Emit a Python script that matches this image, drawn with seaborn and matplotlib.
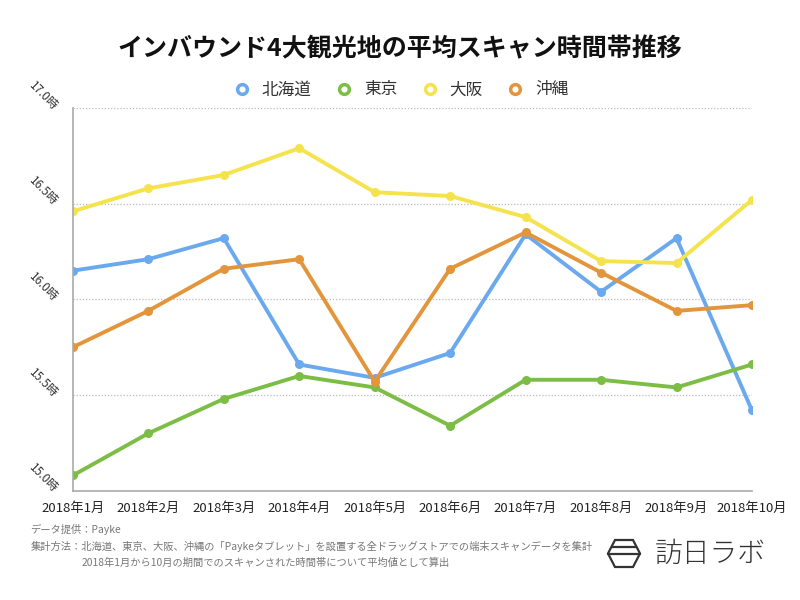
import numpy as np
import pandas as pd
import matplotlib
matplotlib.use('Agg')
import matplotlib.pyplot as plt
from matplotlib.lines import Line2D
from matplotlib.patches import Polygon
import seaborn as sns

sns.set_theme(style='white')
plt.rcParams['font.family'] = ['Noto Sans CJK JP', 'DejaVu Sans']
plt.rcParams['axes.unicode_minus'] = False

months = ['2018年1月', '2018年2月', '2018年3月', '2018年4月', '2018年5月',
          '2018年6月', '2018年7月', '2018年8月', '2018年9月', '2018年10月']
regions = ['北海道', '東京', '大阪', '沖縄']
hokkaido = [16.15, 16.21, 16.32, 15.66, 15.59, 15.72, 16.34, 16.04, 16.32, 15.42]
tokyo = [15.08, 15.30, 15.48, 15.60, 15.54, 15.34, 15.58, 15.58, 15.54, 15.66]
osaka = [16.46, 16.58, 16.65, 16.79, 16.56, 16.54, 16.43, 16.20, 16.19, 16.52]
okinawa = [15.75, 15.94, 16.16, 16.21, 15.57, 16.16, 16.35, 16.14, 15.94, 15.97]
yticks = [15.0, 15.5, 16.0, 16.5, 17.0]
colors = ['#6aa9ee', '#7cbd45', '#f4e34c', '#e2953a']

df = pd.DataFrame({
    'month': months * 4,
    'pos': list(range(len(months))) * 4,
    'region': np.repeat(regions, len(months)),
    'value': hokkaido + tokyo + osaka + okinawa,
})

fig = plt.figure(figsize=(8, 6), dpi=100)
ax = fig.add_axes([0.091, 0.182, 0.849, 0.638])

sns.lineplot(data=df, x='pos', y='value', hue='region', hue_order=regions,
             palette=colors, marker='o', markersize=6.5, markeredgewidth=0,
             linewidth=2.8, ax=ax, legend=False, sort=False)

ax.set_xlim(0, len(months) - 1)
ax.set_ylim(15.0, 17.0)
ax.set_xticks(range(len(months)))
ax.set_xticklabels(months, fontsize=9.5, color='#222222')
ax.set_yticks(yticks)
ax.set_yticklabels([f'{v:.1f}時' for v in yticks], rotation=-45, fontsize=8.5,
                   color='#333333', ha='right', va='center', rotation_mode='anchor')
ax.tick_params(axis='both', length=0)
ax.tick_params(axis='x', pad=8)
ax.tick_params(axis='y', pad=12)
ax.set_xlabel('')
ax.set_ylabel('')

for v in yticks[1:]:
    ax.axhline(v, color='#bbbbbb', linestyle=(0, (1, 1.5)), linewidth=0.9, zorder=0)
for s in ['top', 'right']:
    ax.spines[s].set_visible(False)
for s in ['left', 'bottom']:
    ax.spines[s].set_color('#aaaaaa')
    ax.spines[s].set_linewidth(1.2)

handles = [Line2D([], [], linestyle='none', marker='o', markersize=7,
                  markerfacecolor='white', markeredgecolor=c, markeredgewidth=2.5)
           for c in colors]
fig.legend(handles, regions, loc='center', bbox_to_anchor=(0.496, 0.85), ncol=4,
           frameon=False, fontsize=12, handletextpad=0.2, columnspacing=0.95,
           labelcolor='#333333')

fig.text(0.5, 0.918, 'インバウンド4大観光地の平均スキャン時間帯推移', ha='center',
         va='center', fontsize=18, fontweight='bold', color='#111111')

fig.text(0.038, 0.117, 'データ提供：Payke', fontsize=7.4, color='#777777', va='center')
fig.text(0.038, 0.089, '集計方法：北海道、東京、大阪、沖縄の「Paykeタブレット」を設置する全ドラッグストアでの端末スキャンデータを集計',
         fontsize=7.4, color='#777777', va='center')
fig.text(0.102, 0.062, '2018年1月から10月の期間でのスキャンされた時間帯について平均値として算出',
         fontsize=7.4, color='#777777', va='center')

# logo
hx = np.array([615, 633, 640, 633, 615, 608]) / 800
hy = 1 - np.array([540, 540, 553.5, 567, 567, 553.5]) / 600
fig.add_artist(Polygon(np.column_stack([hx, hy]), closed=True, fill=False,
                       edgecolor='#333333', linewidth=1.6, transform=fig.transFigure))
fig.add_artist(Line2D([612 / 800, 636 / 800], [1 - 547 / 600, 1 - 547 / 600],
                      color='#333333', linewidth=1.6, transform=fig.transFigure))
fig.add_artist(Line2D([608 / 800, 640 / 800], [1 - 553.5 / 600, 1 - 553.5 / 600],
                      color='#333333', linewidth=1.6, transform=fig.transFigure))
fig.text(0.818, 0.077, '訪日ラボ', fontsize=20, color='#333333', va='center',
         fontweight='light')

fig.savefig('out.png', dpi=100)
